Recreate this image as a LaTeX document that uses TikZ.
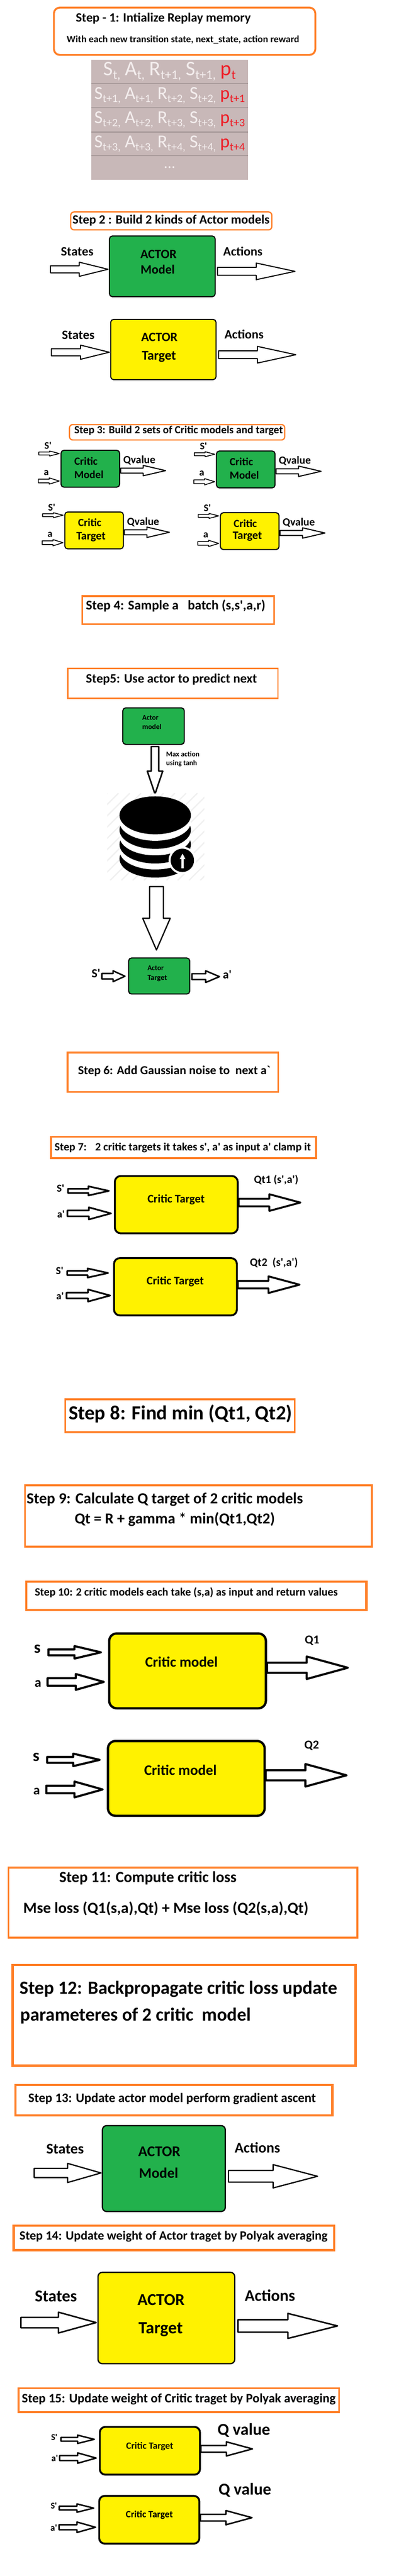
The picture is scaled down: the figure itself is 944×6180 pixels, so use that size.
\documentclass[tikz,border=0pt]{standalone}
\usepackage{fontspec}
\usepackage{graphicx}
\usetikzlibrary{calc, positioning}
\newfontfamily\stepfont{Carlito}
% set a label to the width it has in the picture
\newcommand{\tw}[2]{\resizebox{#1pt}{!}{#2}}
\newcommand{\memsub}[1]{\raisebox{-0.35ex}{\scalebox{0.62}{#1}}}
\definecolor{stepedge}{HTML}{FF7F27}
\definecolor{modelgreen}{HTML}{22B14C}
\definecolor{targetyellow}{HTML}{FFF200}
\definecolor{memfill}{HTML}{C8B8B8}
\definecolor{memedge}{HTML}{AA9C9C}
\definecolor{memtext}{HTML}{F4EEEE}
\definecolor{memred}{HTML}{EE1C25}
\tikzset{
  stepbox/.style={draw=stepedge, inner sep=0pt, outer sep=0pt},
  modelbox/.style={draw=black, inner sep=0pt, outer sep=0pt},
  steptext/.style={inner sep=0pt, font=\stepfont\bfseries},
  memrow/.style={fill=memfill, inner sep=0pt, outer sep=0pt, minimum width=375, text=memtext, font=\stepfont},
  memline/.style={draw=memedge, line width=3pt},
  blockline/.style={draw=black, fill=white, line join=round},
  blockarrow/.style n args={3}{to path={
      ($(\tikztostart)!#1pt!90:(\tikztotarget)$)
      -- ($(\tikztotarget)!#3pt!(\tikztostart)!#1pt!-90:(\tikztostart)$)
      -- ($(\tikztotarget)!#3pt!(\tikztostart)!#2pt!-90:(\tikztostart)$)
      -- (\tikztotarget)
      -- ($(\tikztotarget)!#3pt!(\tikztostart)!#2pt!90:(\tikztostart)$)
      -- ($(\tikztotarget)!#3pt!(\tikztostart)!#1pt!90:(\tikztostart)$)
      -- ($(\tikztostart)!#1pt!-90:(\tikztotarget)$) -- cycle}}
}
% one block arrow per entry: name/x1/y1/x2/y2/shaft/head/headlength/linewidth
\newcommand{\blockarrows}[1]{%
  \foreach \arrname/\xa/\ya/\xb/\yb/\sw/\hw/\hl/\lw in {#1}{
    \coordinate (\arrname tail) at (\xa,\ya);
    \coordinate (\arrname tip) at (\xb,\yb);
    \draw[blockline, line width=\lw, blockarrow={\sw}{\hw}{\hl}] (\arrname tail) to (\arrname tip);
  }}

\begin{document}
\begin{tikzpicture}[x=1pt, y=-1pt]
  \useasboundingbox (0,0) rectangle (944,6180);

  % orange step frames
  \foreach \name/\cx/\cy/\w/\h/\lw/\rr in {
      step1/442.5/75/626.5/113.5/4.5/14,
      step2/410.5/530/482/43/3/8,
      step3/424.5/1037/516/37/3/8,
      step4/427/1463.5/460/67/4/0,
      step5/414.5/1639.5/504/72/3/0,
      step6/414.5/2572.5/504.5/94.5/4.5/0,
      step7/440/2753/635.5/51.5/4.5/0,
      step8/431/3396.5/550/79/4/0,
      step9/475.5/3637/831.5/147.5/4.5/0,
      step10/470.75/3828.5/815/67.5/5.5/0,
      step11/438.5/4564.5/836.5/168.5/4.5/0,
      step12/441.25/4835/822.5/242/6/0,
      step13/417/5038.5/760/73/6/0,
      step14/417/5369/768.5/58.5/5.5/0,
      step15/428.5/5758/768.5/57.5/4.5/0}{
    \node[stepbox, line width=\lw, rounded corners=\rr, minimum width=\w, minimum height=\h] (\name) at (\cx,\cy) {};
  }

  \node[steptext] (step1title) at (391.5,44) {\tw{419}{Step - 1: Intialize Replay memory}};
  \node[steptext] (step1note) at (438.5,96) {\tw{557}{With each new transition state, next\_state, action reward}};
  \node[steptext] (step2title) at (410,529) {\tw{472}{Step 2 : Build 2 kinds of Actor models}};
  \node[steptext] (step3title) at (428,1033) {\tw{500}{Step 3: Build 2 sets of Critic models and target}};
  \node[steptext] (step4title) at (421,1453) {\tw{430}{Step 4: Sample a \ \ batch (s,s',a,r)}};
  \node[steptext] (step5title) at (411,1630) {\tw{410}{Step5: Use actor to predict next}};
  \node[steptext] (step6title) at (417.5,2570) {\tw{461}{Step 6: Add Gaussian noise to \ next a`}};
  \node[steptext] (step7title) at (438,2753) {\tw{614}{Step 7: \ \ 2 critic targets it takes s', a' as input a' clamp it}};
  \node[steptext] (step8title) at (432.5,3392) {\tw{536}{Step 8: Find min (Qt1, Qt2)}};
  \node[steptext] (step9title) at (395,3597) {\tw{662}{Step 9: Calculate Q target of 2 critic models}};
  \node[steptext] (step9formula) at (419,3645) {\tw{480}{Qt = R + gamma * min(Qt1,Qt2)}};
  \node[steptext] (step10title) at (446.5,3821) {\tw{726}{Step 10: 2 critic models each take (s,a) as input and return values}};
  \node[steptext] (step11title) at (354.5,4505) {\tw{425}{Step 11: Compute critic loss}};
  \node[steptext] (step11formula) at (397.5,4579) {\tw{683}{Mse loss (Q1(s,a),Qt) + Mse loss (Q2(s,a),Qt)}};
  \node[steptext] (step12title) at (427.5,4772) {\tw{761}{Step 12: Backpropagate critic loss update}};
  \node[steptext] (step12more) at (325,4836) {\tw{553}{parameteres of 2 critic \ model}};
  \node[steptext] (step13title) at (412.5,5035) {\tw{689}{Step 13: Update actor model perform gradient ascent}};
  \node[steptext] (step14title) at (416,5366) {\tw{738}{Step 14: Update weight of Actor traget by Polyak averaging}};
  \node[steptext] (step15title) at (428.5,5756) {\tw{752}{Step 15: Update weight of Critic traget by Polyak averaging}};

  % replay memory table
  \node[memrow, minimum height=57] (memrow1) at (406.5,171.5)
    {\tw{317}{S\memsub{t,} A\memsub{t,} R\memsub{t+1,} S\memsub{t+1,} \textcolor{memred}{p\memsub{t}}}};
  \node[memrow, minimum height=58, below=0pt of memrow1] (memrow2)
    {\tw{361}{S\memsub{t+1,} A\memsub{t+1,} R\memsub{t+2,} S\memsub{t+2,} \textcolor{memred}{p\memsub{t+1}}}};
  \node[memrow, minimum height=59, below=0pt of memrow2] (memrow3)
    {\tw{361}{S\memsub{t+2,} A\memsub{t+2,} R\memsub{t+3,} S\memsub{t+3,} \textcolor{memred}{p\memsub{t+3}}}};
  \node[memrow, minimum height=56, below=0pt of memrow3] (memrow4)
    {\tw{361}{S\memsub{t+3,} A\memsub{t+3,} R\memsub{t+4,} S\memsub{t+4,} \textcolor{memred}{p\memsub{t+4}}}};
  \node[memrow, minimum height=58, below=0pt of memrow4] (memrow5) {\tw{28}{...}};
  \foreach \r in {1,2,3,4}
    \draw[memline] (memrow\r.south west) -- (memrow\r.south east);

  % block arrows
  \blockarrows{
    st2a/121/646/259/646/8.5/17/69/2.5, st2b/521/651/707/651/9.5/20/93/2.5,
    st2c/123/845/262/845/8.5/17/69/2.5, st2d/524/851/709/851/9.5/20/92/2.5,
    st3a/93/1088/142/1088/3.5/6/23/2, st3b/92/1154/142/1154/4.5/7.5/24/2, st3c/289/1129/397/1129/6/12.5/54/2.5,
    st3d/465.6/1089.7/514.6/1089.7/3.5/6/23/2, st3e/464.6/1155.7/514.6/1155.7/4.5/7.5/24/2, st3f/661.6/1130.7/769.6/1130.7/6/12.5/54/2.5,
    st3g/102/1236/151/1236/3.5/6/23/2, st3h/101/1302/151/1302/4.5/7.5/24/2, st3i/298/1277/406/1277/6/12.5/54/2.5,
    st3j/475/1237.7/524/1237.7/3.5/6/23/2, st3k/474/1303.7/524/1303.7/4.5/7.5/24/2, st3l/671/1278.7/779/1278.7/6/12.5/54/2.5,
    st5a/371.5/1791/371.5/1905/9/18.5/55/3.5, st5b/375/2127/375/2279/16.5/33/76/3,
    st5c/244/2342/299.5/2342/6.5/13/28.5/3.5, st5d/460/2343/526/2343/7/14/33/3.5,
    st7a/163/2857/261/2857/5/11/49/4, st7b/161.5/2911/266/2911/7/14.5/53/4, st7c/572/2885/720/2885/9/20/74.5/4.5,
    st7d/161/3054/259/3054/5/11/49/4, st7e/159.5/3108/264/3108/7/14.5/53/4, st7f/570/3082/718/3082/9/20/74.5/4.5,
    st10a/116/3964/242/3964/7/15/63.5/5, st10b/114/4035/249/4035/9/19/67.5/5, st10c/640/4001/833.6/4001/12/27/98.6/5,
    st10d/113/4222/239/4222/7/15/63.5/5, st10e/111/4293/246/4293/9/19/67.5/5, st10f/637/4259/830.6/4259/12/27/98.6/5,
    st13a/82/5213/242/5213/11/23/80/3, st13b/547.5/5221/761/5221/14/28/106.5/3,
    st14a/50/5572/230.5/5572/12.5/25/90.5/3.5, st14b/570.5/5580/809/5580/15/30/119/3.5,
    st15a/146/5852/226/5852/4.5/10/40/3.5, st15b/143/5897/230.5/5897/6/12.5/44.5/3.5, st15c/481.5/5875/605/5875/8/17/62.5/3.5,
    st15d/142/6017/224.5/6017/4.5/10/40/3.5, st15e/141.5/6063/229/6063/6/12.5/44.5/3.5, st15f/480/6040/604/6040/8/17/62.5/3.5}

  % model and target boxes
  \foreach \name/\cx/\cy/\w/\h/\lw/\rr/\col in {
      actormodel/389/639/253.5/145.5/2.5/7/modelgreen,
      actortarget/391.5/838.5/252.5/144.5/2.5/7/targetyellow,
      criticmodela/216.5/1124.5/140.5/88.5/2.5/7/modelgreen,
      criticmodelb/589/1126.2/140.5/88.5/2.5/7/modelgreen,
      critictargeta/225.5/1272.5/140.5/88.5/2.5/7/targetyellow,
      critictargetb/598.5/1274.2/140.5/88.5/2.5/7/targetyellow,
      predictactor/368/1742/147.5/87.5/2.5/7/modelgreen,
      predicttarget/381.5/2341.5/146.5/86.5/2.5/7/modelgreen,
      clampcritica/422.5/2890/294.5/137.5/4.5/14/targetyellow,
      clampcriticb/420.5/3087/294.5/137.5/4.5/14/targetyellow,
      valuecritica/449.5/4008.5/375.5/179.5/5.5/18/targetyellow,
      valuecriticb/446.5/4266.5/375.5/179.5/5.5/18/targetyellow,
      ascentactor/392.75/5202.5/294.5/206/3/10/modelgreen,
      polyakactor/398.75/5561/327.5/219/3/10/targetyellow,
      polyakcritica/359.25/5879.5/240/114.5/4.5/13/targetyellow,
      polyakcriticb/357.75/6045/240/114.5/4.5/13/targetyellow}{
    \node[modelbox, fill=\col, line width=\lw, rounded corners=\rr, minimum width=\w, minimum height=\h] (\name) at (\cx,\cy) {};
  }

  % step 2 labels
  \node[steptext] (statesa) at (185,604) {\tw{78}{States}};
  \node[steptext] (actionsa) at (582,603) {\tw{94}{Actions}};
  \node[steptext] (actorname) at (380,610) {\tw{87}{ACTOR}};
  \node[steptext] (actorkind) at (378,646) {\tw{82}{Model}};
  \node[steptext] (statesb) at (187.5,804) {\tw{78}{States}};
  \node[steptext] (actionsb) at (585,802) {\tw{94}{Actions}};
  \node[steptext] (targetname) at (382,809) {\tw{87}{ACTOR}};
  \node[steptext] (targetkind) at (381,856) {\tw{82}{Target}};

  % step 3 labels
  \foreach \id/\dx/\dy in {a/0/0, b/372.6/1.7, c/9/148, d/382/149.7}{
    \node[steptext] (sprime\id) at ({115+\dx},{1069+\dy}) {\tw{17}{S'}};
    \node[steptext] (ain\id) at ({111+\dx},{1134+\dy}) {\tw{12}{a}};
    \node[steptext] (critic\id) at ({206+\dx},{1106+\dy}) {\tw{56}{Critic}};
    \node[steptext] (qval\id) at ({334+\dx},{1104+\dy}) {\tw{77}{Qvalue}};
  }
  \node[steptext] (kinda) at (213,1138) {\tw{70}{Model}};
  \node[steptext] (kindb) at (585.6,1139.7) {\tw{70}{Model}};
  \node[steptext] (kindc) at (218,1288) {\tw{70}{Target}};
  \node[steptext] (kindd) at (593,1287) {\tw{70}{Target}};

  % step 5 database picture
  \node[fill=white, inner sep=0pt, outer sep=0pt, minimum width=233, minimum height=209] (dbpanel) at (373.5,2007.5) {};
  \begin{scope}
    \clip (dbpanel.south west) rectangle (dbpanel.north east);
    \foreach \sx in {48,75,...,490}
      \draw[draw=black!6, line width=3pt] (\sx,2112) -- ++(209,-209);
  \end{scope}
  \foreach \off/\ink in {104/black, 84.5/white, 70/black, 50.5/white, 35/black, 15.5/white, 0/black}
    \fill[fill=\ink] (372,{1956+\off}) ellipse [x radius=85.6pt, y radius=45.5pt];
  \fill[white] (437,2064) circle [radius=33pt];
  \fill[black] (437,2064) circle [radius=28pt];
  \coordinate (badgetail) at (437.5,2083);
  \coordinate (badgetip) at (437.5,2048);
  \fill[white, blockarrow={3}{7}{13}] (badgetail) to (badgetip);

  \node[steptext] (predictname) at (360.5,1722) {\tw{39}{Actor}};
  \node[steptext] (predictkind) at (364,1744) {\tw{46}{model}};
  \node[steptext, anchor=west] (maxaction) at (398,1809) {\tw{80}{Max action}};
  \node[steptext, anchor=west] (usingtanh) at (398,1831) {\tw{74}{using tanh}};
  \node[steptext] (targetactor) at (373,2323) {\tw{39}{Actor}};
  \node[steptext] (targetwhich) at (377,2347) {\tw{47}{Target}};
  \node[steptext] (sprimenext) at (230,2335) {\tw{21}{S'}};
  \node[steptext] (aprimenext) at (544.5,2338) {\tw{21}{a'}};

  % step 7 labels
  \node[steptext] (clampnamea) at (422,2878) {\tw{137}{Critic Target}};
  \node[steptext] (clampnameb) at (420,3075) {\tw{137}{Critic Target}};
  \node[steptext] (clampsa) at (145,2851) {\tw{18}{S'}};
  \node[steptext] (clampaa) at (146,2913) {\tw{18}{a'}};
  \node[steptext] (clampsb) at (143,3048) {\tw{18}{S'}};
  \node[steptext] (clampab) at (144,3110) {\tw{18}{a'}};
  \node[steptext] (clampqa) at (662,2831) {\tw{106}{Qt1 (s',a')}};
  \node[steptext] (clampqb) at (656.5,3029) {\tw{115}{Qt2 \ (s',a')}};

  % step 10 labels
  \node[steptext] (valuenamea) at (435,3987) {\tw{174}{Critic model}};
  \node[steptext] (valuenameb) at (432.5,4246) {\tw{174}{Critic model}};
  \node[steptext] (valuesa) at (89.5,3956) {\tw{16}{s}};
  \node[steptext] (valueaa) at (91,4039) {\tw{16}{a}};
  \node[steptext] (valuesb) at (86.5,4215) {\tw{16}{s}};
  \node[steptext] (valueab) at (88,4298) {\tw{16}{a}};
  \node[steptext] (valueqa) at (748,3936) {\tw{35}{Q1}};
  \node[steptext] (valueqb) at (747,4188) {\tw{35}{Q2}};

  % step 13 labels
  \node[steptext] (statesc) at (156,5155) {\tw{90}{States}};
  \node[steptext] (actionsc) at (617,5152) {\tw{109}{Actions}};
  \node[steptext] (ascentname) at (382,5162) {\tw{101}{ACTOR}};
  \node[steptext] (ascentkind) at (380,5213) {\tw{94}{Model}};

  % step 14 labels
  \node[steptext] (statesd) at (134,5509) {\tw{101}{States}};
  \node[steptext] (actionsd) at (647,5507) {\tw{121}{Actions}};
  \node[steptext] (polyakname) at (386,5518) {\tw{113}{ACTOR}};
  \node[steptext] (polyakkind) at (385,5588) {\tw{106}{Target}};

  % step 15 labels
  \node[steptext] (polyaknamea) at (359,5869) {\tw{113}{Critic Target}};
  \node[steptext] (polyaknameb) at (358,6034) {\tw{113}{Critic Target}};
  \node[steptext] (polyaksa) at (130,5847) {\tw{15}{S'}};
  \node[steptext] (polyakaa) at (131,5898) {\tw{16}{a'}};
  \node[steptext] (polyaksb) at (129,6011) {\tw{15}{S'}};
  \node[steptext] (polyakab) at (129,6064) {\tw{16}{a'}};
  \node[steptext] (polyakqa) at (584.5,5830) {\tw{126}{Q value}};
  \node[steptext] (polyakqb) at (587,5974) {\tw{126}{Q value}};
\end{tikzpicture}
\end{document}
